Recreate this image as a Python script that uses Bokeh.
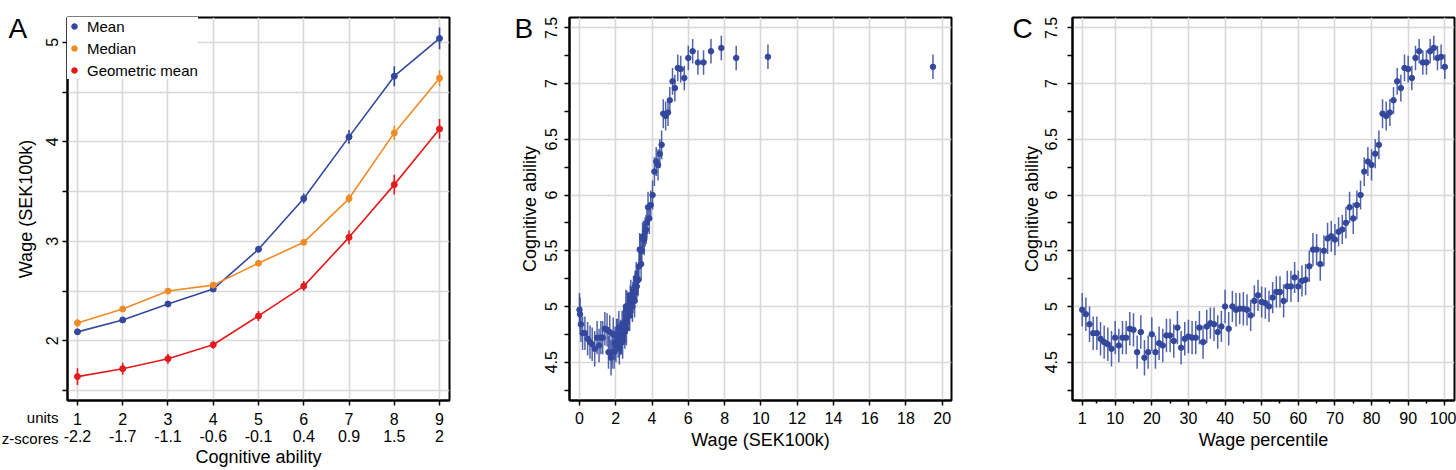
from bokeh.plotting import figure
from bokeh.layouts import row
from bokeh.models import FixedTicker, LinearAxis, Label, Legend, LegendItem, Range1d
from bokeh.embed import file_html
from bokeh.resources import INLINE

FONT = "Liberation Sans"
BLUE = "#33489C"
ORANGE = "#F08A26"
RED = "#E31B1C"
GRID = "#D8D8D8"

# ---------------- Panel A data ----------------
units = [1, 2, 3, 4, 5, 6, 7, 8, 9]
z_scores = ["-2.2", "-1.7", "-1.1", "-0.6", "-0.1", "0.4", "0.9", "1.5", "2"]
mean_wage = [2.09, 2.21, 2.37, 2.52, 2.92, 3.43, 4.05, 4.66, 5.04]
mean_err = [0.03, 0.02, 0.02, 0.02, 0.03, 0.05, 0.07, 0.10, 0.11]
median_wage = [2.18, 2.32, 2.50, 2.56, 2.78, 2.99, 3.43, 4.09, 4.64]
median_err = [0.04, 0.02, 0.02, 0.02, 0.02, 0.03, 0.045, 0.075, 0.08]
geo_wage = [1.64, 1.72, 1.82, 1.96, 2.25, 2.55, 3.04, 3.57, 4.13]
geo_err = [0.085, 0.06, 0.05, 0.04, 0.05, 0.05, 0.07, 0.10, 0.10]

# ---------------- Panels B & C data ----------------
percentile = list(range(1, 101))
cog_ability = [
    4.97, 4.93, 4.84, 4.76, 4.76, 4.71, 4.68, 4.66, 4.62, 4.72,
    4.65, 4.72, 4.72, 4.80, 4.79, 4.59, 4.77, 4.54, 4.59, 4.75,
    4.59, 4.67, 4.65, 4.74, 4.74, 4.69, 4.81, 4.63, 4.71, 4.73,
    4.72, 4.72, 4.81, 4.68, 4.82, 4.85, 4.84, 4.77, 4.82, 5.00,
    4.80, 5.00, 4.97, 4.98, 4.98, 4.97, 4.92, 5.05, 5.10, 5.04,
    5.03, 5.00, 5.08, 5.13, 5.13, 5.05, 5.18, 5.18, 5.26, 5.18,
    5.23, 5.24, 5.36, 5.51, 5.51, 5.38, 5.50, 5.61, 5.63, 5.60,
    5.67, 5.69, 5.75, 5.89, 5.79, 5.91, 6.00, 6.21, 6.30, 6.27,
    6.37, 6.45, 6.73, 6.71, 6.74, 6.85, 7.02, 6.96, 7.14, 7.13,
    7.05, 7.23, 7.29, 7.19, 7.19, 7.29, 7.32, 7.23, 7.24, 7.15,
]
cog_err = [
    0.15, 0.15, 0.16, 0.15, 0.15, 0.15, 0.15, 0.15, 0.16, 0.15,
    0.15, 0.15, 0.15, 0.15, 0.15, 0.15, 0.15, 0.16, 0.15, 0.15,
    0.15, 0.15, 0.15, 0.15, 0.15, 0.15, 0.15, 0.15, 0.15, 0.15,
    0.15, 0.15, 0.15, 0.15, 0.15, 0.14, 0.15, 0.15, 0.14, 0.15,
    0.15, 0.14, 0.15, 0.14, 0.15, 0.14, 0.14, 0.14, 0.14, 0.14,
    0.14, 0.14, 0.14, 0.14, 0.14, 0.15, 0.14, 0.14, 0.14, 0.14,
    0.14, 0.14, 0.14, 0.15, 0.14, 0.15, 0.14, 0.14, 0.14, 0.14,
    0.13, 0.13, 0.14, 0.14, 0.14, 0.13, 0.13, 0.13, 0.13, 0.14,
    0.13, 0.13, 0.13, 0.13, 0.12, 0.12, 0.12, 0.12, 0.12, 0.12,
    0.11, 0.11, 0.11, 0.11, 0.11, 0.11, 0.11, 0.11, 0.11, 0.11,
]
wage = [
    0.00, 0.03, 0.08, 0.17, 0.30, 0.45, 0.58, 0.70, 0.84, 0.97,
    1.08, 1.18, 1.28, 1.40, 1.52, 1.60, 1.67, 1.74, 1.80, 1.86,
    1.91, 1.96, 2.01, 2.05, 2.09, 2.13, 2.17, 2.20, 2.23, 2.26,
    2.29, 2.32, 2.35, 2.38, 2.41, 2.44, 2.47, 2.50, 2.53, 2.56,
    2.59, 2.62, 2.65, 2.68, 2.71, 2.74, 2.77, 2.80, 2.83, 2.86,
    2.89, 2.92, 2.95, 2.98, 3.01, 3.04, 3.07, 3.10, 3.13, 3.16,
    3.20, 3.24, 3.28, 3.32, 3.36, 3.40, 3.44, 3.48, 3.52, 3.57,
    3.62, 3.67, 3.72, 3.78, 3.85, 3.93, 4.03, 4.13, 4.23, 4.33,
    4.43, 4.53, 4.62, 4.75, 4.88, 4.98, 5.13, 5.26, 5.42, 5.58,
    5.78, 6.00, 6.24, 6.53, 6.84, 7.25, 7.82, 8.64, 10.39, 19.49,
]

cog_ticks = [4.5, 5.0, 5.5, 6.0, 6.5, 7.0, 7.5]
cog_minor = [4.25, 4.75, 5.25, 5.75, 6.25, 6.75, 7.25]
wage_ticks = [0, 2, 4, 6, 8, 10, 12, 14, 16, 18, 20]
pct_ticks = [1, 10, 20, 30, 40, 50, 60, 70, 80, 90, 100]
pct_minor = [5, 15, 25, 35, 45, 55, 65, 75, 85, 95]
wageA_ticks = [2, 3, 4, 5]
wageA_minor = [1.5, 2.5, 3.5, 4.5]
wageA_grid = [1.5, 2.0, 2.5, 3.0, 3.5, 4.0, 4.5, 5.0]

TICK_FS = "16px"
LABEL_FS = "18px"
LETTER_FS = "28px"
FRAME_W = 382
FRAME_H = 383


def make_fig(left, right, xr, yr):
    p = figure(frame_width=FRAME_W, frame_height=FRAME_H, min_border_left=left,
               min_border_right=right, min_border_top=17, min_border_bottom=70,
               x_range=Range1d(*xr), y_range=Range1d(*yr),
               output_backend="svg", toolbar_location=None)
    p.outline_line_color = "black"
    p.outline_line_width = 2
    p.outline_line_alpha = 1
    p.background_fill_color = "white"
    p.border_fill_color = "white"
    for g in (p.xgrid[0], p.ygrid[0]):
        g.grid_line_color = GRID
        g.grid_line_width = 1.6
    return p


def style_axis(ax, label=None, vertical=False, tick_standoff=4, label_standoff=4):
    ax.axis_line_color = "black"
    ax.axis_line_width = 2
    ax.major_tick_line_color = "black"
    ax.major_tick_line_width = 1.5
    ax.major_tick_in = 0
    ax.major_tick_out = 5
    ax.minor_tick_line_color = "black"
    ax.minor_tick_line_width = 1.5
    ax.minor_tick_in = 0
    ax.minor_tick_out = 5
    ax.major_label_text_font = FONT
    ax.major_label_text_font_size = TICK_FS
    ax.major_label_text_color = "black"
    ax.axis_label_text_font = FONT
    ax.axis_label_text_font_size = LABEL_FS
    ax.axis_label_text_font_style = "normal"
    ax.axis_label_text_color = "black"
    ax.axis_label = label
    if vertical:
        ax.major_label_orientation = "vertical"
    ax.major_label_standoff = tick_standoff
    ax.axis_label_standoff = label_standoff


def side_text(p, side, txt, x, y, size, align="left", baseline="alphabetic",
              line_height=1.2, angle=0):
    # text in a side panel (not clipped to the frame); x, y are screen offsets in that panel
    p.add_layout(Label(x=x, y=y, x_units="screen", y_units="screen", text=txt,
                       text_font=FONT, text_font_size=size, text_color="black",
                       text_align=align, text_baseline=baseline,
                       text_line_height=line_height, angle=angle, angle_units="deg"), side)


# ---------------- Panel A ----------------
xA = (0.78, 9.22)
yA = (1.40, 5.25)
pA = make_fig(67, 61, xA, yA)
pA.xaxis[0].ticker = FixedTicker(ticks=units)
pA.yaxis[0].ticker = FixedTicker(ticks=wageA_ticks, minor_ticks=wageA_minor)
pA.xgrid[0].ticker = FixedTicker(ticks=units)
pA.ygrid[0].ticker = FixedTicker(ticks=wageA_grid)
style_axis(pA.xaxis[0], tick_standoff=7)
pA.xaxis[0].minor_tick_line_color = None
style_axis(pA.yaxis[0], None, vertical=True, tick_standoff=4)

zaxis = LinearAxis(ticker=FixedTicker(ticks=units),
                   major_label_overrides={u: z for u, z in zip(units, z_scores)})
style_axis(zaxis, "Cognitive ability", tick_standoff=2, label_standoff=2)
zaxis.axis_line_color = None
zaxis.major_tick_line_color = None
zaxis.minor_tick_line_color = None
zaxis.major_tick_out = 0
pA.add_layout(zaxis, "below")

series = [("Mean", mean_wage, mean_err, BLUE), ("Median", median_wage, median_err, ORANGE),
          ("Geometric mean", geo_wage, geo_err, RED)]
items = []
for name, vals, errs, col in series:
    pA.line(units, vals, line_color=col, line_width=1.6)
    pA.segment(x0=units, y0=[v - e for v, e in zip(vals, errs)],
               x1=units, y1=[v + e for v, e in zip(vals, errs)],
               line_color=col, line_width=1.6)
    sc = pA.scatter(units, vals, size=6, fill_color=col, line_color=col)
    items.append(LegendItem(label=name, renderers=[sc]))

legend = Legend(items=items, location="top_left")
legend.margin = 0
legend.padding = 11
legend.spacing = 4
legend.glyph_width = 14
legend.glyph_height = 18
legend.label_height = 18
legend.label_standoff = 6
legend.label_text_font = FONT
legend.label_text_font_size = "15px"
legend.label_text_color = "black"
legend.border_line_color = None
legend.background_fill_color = "white"
legend.background_fill_alpha = 1
pA.add_layout(legend, "center")

# row captions of the two-line x axis, in the right side panel (origin: frame right / bottom)
side_text(pA, "right", "units\nz-scores", 58 - (67 + FRAME_W), -27.5, "15px",
          align="right", baseline="middle", line_height=1.25)
# y-axis title (rotated) and panel letter, stacked in the left side panel
side_text(pA, "left", "Wage (SEK100k)", 2.6, FRAME_H / 2, LABEL_FS,
          align="center", baseline="middle", angle=90)
side_text(pA, "left", "A", 4, FRAME_H - 11, LETTER_FS)

# ---------------- Panel B ----------------
xB = (-0.55, 20.51)
yB = (4.156, 7.593)
pB = make_fig(59, 9, xB, yB)
pB.xaxis[0].ticker = FixedTicker(ticks=wage_ticks)
pB.yaxis[0].ticker = FixedTicker(ticks=cog_ticks, minor_ticks=cog_minor)
pB.xgrid[0].ticker = FixedTicker(ticks=wage_ticks)
pB.ygrid[0].ticker = FixedTicker(ticks=cog_ticks)
style_axis(pB.xaxis[0], "Wage (SEK100k)", tick_standoff=6, label_standoff=3)
pB.xaxis[0].minor_tick_line_color = None
style_axis(pB.yaxis[0], "Cognitive ability", vertical=True, tick_standoff=7, label_standoff=3)
pB.yaxis[0].major_label_overrides = {5: "5", 6: "6", 7: "7"}

lo = [c - e for c, e in zip(cog_ability, cog_err)]
hi = [c + e for c, e in zip(cog_ability, cog_err)]
pB.segment(x0=wage, y0=lo, x1=wage, y1=hi, line_color=BLUE, line_width=1.5, line_alpha=0.85)
pB.scatter(wage, cog_ability, size=5.5, fill_color=BLUE, line_color=BLUE)
side_text(pB, "right", "B", 4 - (59 + FRAME_W), FRAME_H - 11, LETTER_FS)

# ---------------- Panel C ----------------
xC = (-1.65, 102.65)
pC = make_fig(102, 2, xC, yB)
pC.xaxis[0].ticker = FixedTicker(ticks=pct_ticks, minor_ticks=pct_minor)
pC.yaxis[0].ticker = FixedTicker(ticks=cog_ticks, minor_ticks=cog_minor)
pC.xgrid[0].ticker = FixedTicker(ticks=pct_ticks)
pC.ygrid[0].ticker = FixedTicker(ticks=cog_ticks)
style_axis(pC.xaxis[0], "Wage percentile", tick_standoff=6, label_standoff=3)
pC.xaxis[0].minor_tick_out = 3
style_axis(pC.yaxis[0], "Cognitive ability", vertical=True, tick_standoff=10, label_standoff=1)
pC.yaxis[0].major_label_overrides = {5: "5", 6: "6", 7: "7"}

pC.segment(x0=percentile, y0=lo, x1=percentile, y1=hi, line_color=BLUE, line_width=1.5, line_alpha=0.85)
pC.scatter(percentile, cog_ability, size=5.5, fill_color=BLUE, line_color=BLUE)
side_text(pC, "left", "C", 14, FRAME_H - 11, LETTER_FS)

layout = row(pA, pB, pC)
open("out.html", "w").write(file_html(layout, INLINE))
